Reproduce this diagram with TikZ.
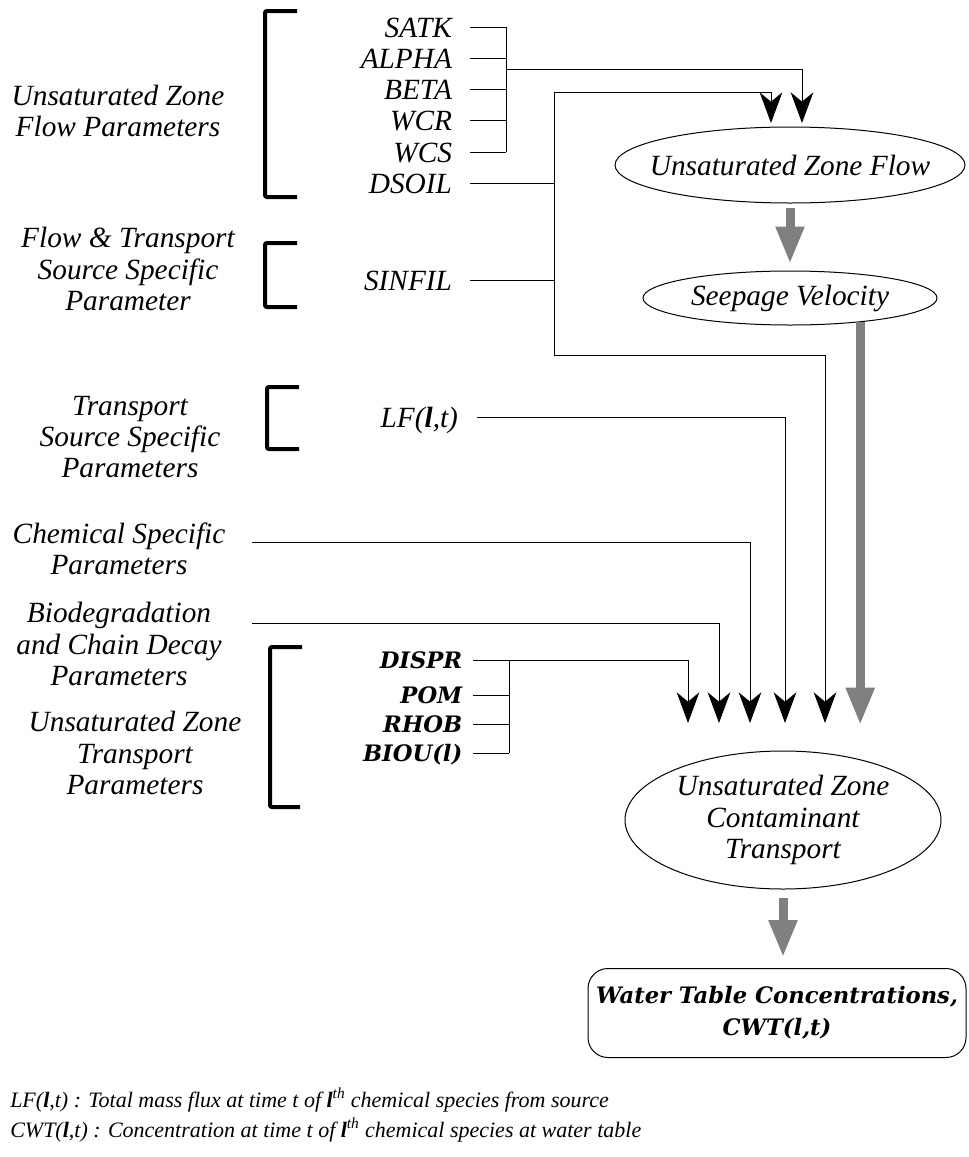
\documentclass[tikz,border=0pt]{standalone}
\usepackage{fontspec}
\setmainfont{Liberation Serif}
\newfontfamily\dvs{DejaVu Serif}
\usetikzlibrary{arrows.meta,shapes.geometric}
\definecolor{garrow}{HTML}{808080}
\begin{document}
\begin{tikzpicture}[x=0.75pt,y=-0.75pt,
 lab/.style={align=center,inner sep=0pt,font=\fontsize{22}{23.5}\selectfont\itshape},
 par/.style={anchor=east,inner sep=0pt,outer xsep=13.5pt,text height=15pt,text depth=0pt,font=\fontsize{22}{23.5}\selectfont\itshape},
 bpar/.style={anchor=east,inner sep=0pt,outer xsep=8pt,text height=12.4pt,text depth=0pt,font=\fontsize{17}{20}\selectfont\dvs\bfseries\itshape},
 conn/.style={draw,line width=0.75pt},
 arr/.style={conn,-{Stealth[length=23pt,width=17pt,inset=7pt]}},
 garr/.style={draw=garrow,line width=6.75pt,-{Triangle[length=28pt,width=20pt]}},
 brk/.style={line width=3pt,rounded corners=1.5pt},
 ell/.style={ellipse,draw,line width=0.75pt,inner sep=0pt},
 ltxt/.style={align=center,inner sep=0pt,font=\fontsize{22}{23.5}\selectfont\itshape},
 foot/.style={anchor=west,inner sep=0pt,font=\fontsize{16.5}{20}\selectfont\itshape}
]
\fill[white] (0,0) rectangle (969,1157);
\useasboundingbox (0,0) rectangle (969,1157);

% brackets
\draw[brk] (297,11) -- (265,11) -- (265,197) -- (297,197);
\draw[brk] (297,243) -- (265,243) -- (265,307) -- (297,307);
\draw[brk] (299,387) -- (267,387) -- (267,449) -- (299,449);
\draw[brk] (302,647) -- (270,647) -- (270,807) -- (300,807);

% group labels
\node[lab] (L1) at (118,111) {Unsaturated Zone\\Flow Parameters};
\node[lab] (L2) at (128,269) {Flow \& Transport\\Source Specific\\Parameter};
\node[lab] (L3) at (130,437) {Transport\\Source Specific\\Parameters};
\node[lab] (L4) at (119,549) {Chemical Specific\\Parameters};
\node[lab] (L5) at (119,644) {Biodegradation\\and Chain Decay\\Parameters};
\node[lab] (L6) at (135,753) {Unsaturated Zone\\Transport\\Parameters};

% parameters
\node[par] (SATK) at (470,27) {SATK};
\node[par] (ALPHA) at (470,58) {ALPHA};
\node[par] (BETA) at (470,89) {BETA};
\node[par] (WCR) at (470,120) {WCR};
\node[par] (WCS) at (470,152) {WCS};
\node[par] (DSOIL) at (470,183) {DSOIL};
\node[par] (SINFIL) at (470,280) {SINFIL};
\node[par,outer xsep=14.25pt] (LF) at (477,417) {LF(\textbf{l},t)};
\node[bpar] (DISPR) at (473,660) {DISPR};
\node[bpar] (POM) at (473,695) {POM};
\node[bpar] (RHOB) at (473,724) {RHOB};
\node[bpar] (BIOU) at (473,753) {BIOU(l)};

% process nodes
\node[ell,minimum width=262.5pt,minimum height=57pt,label={[ltxt]center:Unsaturated Zone Flow}] (UZF) at (790,165) {};
\node[ell,minimum width=220.5pt,minimum height=40.5pt,label={[ltxt]center:Seepage Velocity}] (SV) at (790,298) {};
\node[ell,minimum width=237pt,minimum height=103.5pt,label={[ltxt]center:{Unsaturated Zone\\Contaminant\\Transport}}] (UZCT) at (783,820) {};
\node[draw,line width=0.75pt,rounded corners=15pt,minimum width=283.5pt,minimum height=66.75pt,align=center,font=\fontsize{17}{24}\selectfont\dvs\bfseries\itshape] (WT) at (777,1013) {Water Table Concentrations,\\CWT(l,t)};

% coordinates
\coordinate (a1) at (771,123);
\coordinate (a2) at (802,123);
\coordinate (t1) at (688,723);
\coordinate (t2) at (719,723);
\coordinate (t3) at (750,723);
\coordinate (t4) at (785,723);
\coordinate (t5) at (825,723);
\coordinate (t6) at (860,725);
\coordinate (jA) at (506,69);
\coordinate (jB) at (554,92);
\coordinate (jC) at (554,355);
\coordinate (jD) at (509,660);
\coordinate (cS) at (252,542);
\coordinate (cB) at (252,623);

% connectors
\foreach \n in {SATK,ALPHA,BETA,WCR,WCS} \draw[conn] (\n.east) -- (\n.east -| jA);
\draw[conn] (SATK.east -| jA) -- (WCS.east -| jA);
\draw[arr] (jA) -| (a2);
\draw[conn] (DSOIL.east) -- (DSOIL.east -| jB);
\draw[conn] (SINFIL.east) -- (SINFIL.east -| jB);
\draw[conn] (jB) -- (jC);
\draw[arr] (jB) -| (a1);
\draw[arr] (jC) -| (t5);
\draw[arr] (LF.east) -| (t4);
\draw[arr] (cS) -| (t3);
\draw[arr] (cB) -| (t2);
\draw[arr] (DISPR.east) -| (t1);
\foreach \n in {POM,RHOB,BIOU} \draw[conn] (\n.east) -- (\n.east -| jD);
\draw[conn] (jD) -- (BIOU.east -| jD);

% gray flow arrows
\draw[garr,shorten <=3pt,shorten >=5pt] (UZF.south) -- (SV.north);
\draw[garr] (SV.-19) -- (SV.-19 |- t6);
\draw[garr,shorten <=6pt,shorten >=8pt] (UZCT.south) -- (UZCT.south |- WT.north);

% footnotes
\node[foot] (F1) at (10,1100) {LF(\textbf{l},t) : Total mass flux at time t of \textbf{l}\textsuperscript{th} chemical species from source};
\node[foot] (F2) at (10,1130) {CWT(\textbf{l},t) : Concentration at time t of \textbf{l}\textsuperscript{th} chemical species at water table};
\end{tikzpicture}
\end{document}
